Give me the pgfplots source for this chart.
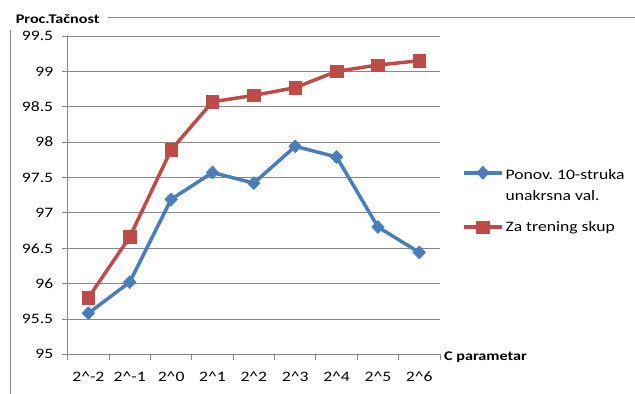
\documentclass[border=0pt]{standalone}
\usepackage{pgfplots}
\pgfplotsset{compat=1.18}
\usepackage{fontspec}
\setmainfont{Carlito}[FakeStretch=1.22]
\frenchspacing
\definecolor{sblue}{RGB}{74,126,187}
\definecolor{sred}{RGB}{190,75,72}
\definecolor{gridc}{RGB}{134,134,134}
\begin{document}
\begin{tikzpicture}
\path[use as bounding box] (-67.7bp,-39.7bp) rectangle (567.3bp,354.3bp);
\begin{axis}[
  at={(0,0)}, anchor=south west,
  scale only axis, width=372.3bp, height=318.3bp,
  xmin=-0.5, xmax=8.5, ymin=95, ymax=99.5,
  axis lines=left,
  axis line style={gridc, line width=0.8bp, -},
  ymajorgrids, major grid style={gridc, line width=0.8bp},
  tick align=outside,
  major tick length=6bp, minor tick length=6bp,
  tick style={gridc, line width=0.8bp},
  every major x tick/.append style={draw=none},
  xtick={0,...,8},
  minor xtick={-0.5,0.5,1.5,2.5,3.5,4.5,5.5,6.5,7.5,8.5},
  xticklabels={2\textasciicircum-2,2\textasciicircum-1,2\textasciicircum0,2\textasciicircum1,2\textasciicircum2,2\textasciicircum3,2\textasciicircum4,2\textasciicircum5,2\textasciicircum6},
  ytick={95,95.5,96,96.5,97,97.5,98,98.5,99,99.5},
  /pgf/number format/fixed, /pgf/number format/precision=1,
  /pgf/number format/assume math mode=true,
  ticklabel style={font=\fontsize{14.5}{17}\selectfont, text=black},
  xticklabel style={yshift=-8bp},
  yticklabel style={xshift=-5bp},
  legend style={at={(1.059,0.591)}, anchor=north west, draw=none, fill=none,
    font=\fontsize{14.5}{17}\selectfont, cells={align=left},
    row sep=15bp, inner sep=0pt},
  legend cell align=left,
  legend image code/.code={\draw[mark repeat=2,mark phase=2,#1] plot coordinates {(0bp,0bp) (19bp,0bp) (38bp,0bp)};},
]
\addplot[forget plot, sblue, line width=3.5bp, mark=diamond*, mark size=6.5bp, mark options={fill=sblue, line width=0.5bp, xscale=1.3}]
  coordinates {(0,95.58) (1,96.02) (2,97.19) (3,97.57) (4,97.42) (5,97.94) (6,97.79) (7,96.80) (8,96.44)};
\addplot[forget plot, sred, line width=3.5bp, mark=square*, mark size=6.2bp, mark options={fill=sred, line width=0.5bp}]
  coordinates {(0,95.80) (1,96.66) (2,97.89) (3,98.57) (4,98.66) (5,98.77) (6,99.00) (7,99.09) (8,99.15)};
\addlegendimage{sblue, line width=3.5bp, mark=diamond*, mark size=6.5bp, mark options={fill=sblue, line width=0.5bp, xscale=1.3}, yshift=13bp}
\addlegendentry{Ponov. 10-struka\\[4.5bp]unakrsna val.}
\addlegendimage{sred, line width=3.5bp, mark=square*, mark size=6.2bp, mark options={fill=sred, line width=0.5bp}}
\addlegendentry{Za trening skup}
\end{axis}
\draw[gridc, line width=0.8bp] (-57.7bp,324.3bp) -- (-57.7bp,-39.7bp);
\draw[gridc, line width=0.8bp] (40.3bp,337.3bp) -- (567.3bp,337.3bp);
\node[anchor=base west, inner sep=0pt, font=\fontsize{13.3}{15}\selectfont\bfseries] at (-52bp,330.3bp) {Proc.Tačnost};
\node[anchor=base west, inner sep=0pt, font=\fontsize{13.3}{15}\selectfont\bfseries] at (376.3bp,-5.7bp) {C parametar};
\end{tikzpicture}
\end{document}
